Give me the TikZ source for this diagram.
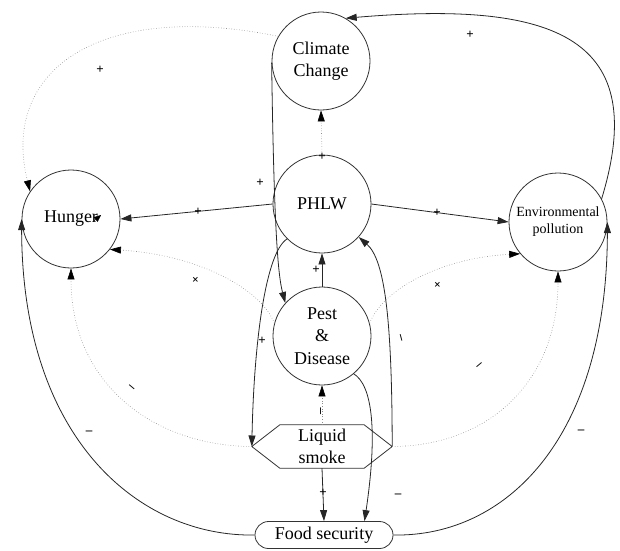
\documentclass[tikz,border=0pt]{standalone}
\usepackage{fontspec}
\setmainfont{Liberation Serif}
\usetikzlibrary{arrows.meta,shapes.misc}
\begin{document}
\begin{tikzpicture}[x=1pt,y=-1pt,
  every node/.style={inner sep=0pt},
  bub/.style={circle,draw=black!80,line width=0.8pt,minimum size=98pt,align=center,font=\fontsize{18}{22.5}\selectfont},
  boxtext/.style={align=center,font=\fontsize{18}{22.5}\selectfont},
  solidc/.style={draw=black!85,line width=0.8pt,-{Triangle[length=11pt,width=7pt]}},
  dotc/.style={draw=black!45,line width=0.6pt,dotted,-{Triangle[length=11pt,width=7pt,color=black]}},
  sgn/.style={font=\bfseries\fontsize{13}{13}\selectfont}]
\useasboundingbox (0,0) rectangle (620,550);
% nodes
\node[bub] (cc) at (321,61) {Climate\\Change};
\node[bub] (phlw) at (322,204) {PHLW};
\node[bub] (hun) at (71,219) {Hunger};
\node[bub,font=\fontsize{14}{17}\selectfont] (env) at (558,222) {Environmental\\pollution};
\node[bub] (pest) at (322,336) {Pest\\\&\\Disease};
\node[boxtext,minimum width=140pt,minimum height=43pt] (ls) at (322,446.5) {Liquid\\smoke};
\draw[black!80,line width=0.8pt] (ls.west) -- ([xshift=28pt]ls.north west) -- ([xshift=-28pt]ls.north east) -- (ls.east) -- ([xshift=-28pt]ls.south east) -- ([xshift=28pt]ls.south west) -- cycle;
\node[boxtext,rounded rectangle,draw=black!80,line width=0.8pt,minimum width=138pt,minimum height=27pt] (fs) at (324,535) {Food security};
% connectors
\draw[dotc] (phlw.north) -- (cc.south);
\draw[solidc] (phlw.west) -- (hun.east);
\draw[solidc] (phlw.east) -- (env.west);
\draw[solidc] (env.28) .. controls (650,40) and (560,0) .. (cc.60);
\draw[dotc] (cc.150) .. controls (100,0) and (0,70) .. (hun.146);
\draw[solidc] (cc.182) .. controls (274,230) and (278,275) .. (pest.138);
\draw[solidc] (pest.north) -- (phlw.south);
\draw[dotc] (pest.165) .. controls (262,290) and (200,255) .. (hun.-38);
\draw[dotc] (pest.15) .. controls (382,290) and (440,258) .. (env.220);
\draw[solidc] (phlw.225) .. controls (266,252) and (254,340) .. (ls.west);
\draw[solidc] (ls.east) .. controls (392,320) and (385,260) .. (phlw.-42);
\draw[dotc] (ls.north) -- (pest.south);
\draw[dotc] (ls.west) .. controls (155,446) and (71,385) .. (hun.south);
\draw[dotc] (ls.east) .. controls (490,446) and (558,380) .. (env.south);
\draw[solidc] (ls.south) -- (fs.north);
\draw[solidc] (pest.-50) .. controls (372,385) and (378,430) .. ([xshift=-15pt]fs.north east);
\draw[solidc] (fs.west) .. controls (140,537) and (22,440) .. (hun.west);
\draw[solidc] (fs.east) .. controls (505,537) and (607,440) .. (env.east);
\draw[-{Triangle[length=7pt,width=6pt]}] ([shift={(23,2)}]hun.center) -- ([shift={(30,-4)}]hun.center);
% signs
\node[sgn] (s1) at (100,70) {+};
\node[sgn] (s2) at (260,183) {+};
\node[sgn] (s3) at (470,35) {+};
\node[sgn] (s4) at (198,212) {+};
\node[sgn] (s5) at (437,213) {+};
\node[sgn] (s6) at (322,157) {+};
\node[sgn] (s7) at (316,270) {+};
\node[sgn,rotate=45] (s8) at (196,280) {+};
\node[sgn,rotate=45] (s9) at (438,285) {+};
\node[sgn] (s10) at (262,341) {+};
\node[sgn,rotate=-75] (s11) at (400,338) {–};
\node[sgn,rotate=90] (s12) at (322,411) {–};
\node[sgn,rotate=-40] (s13) at (131,388) {–};
\node[sgn,rotate=40] (s14) at (480,366) {–};
\node[sgn] (s15) at (323,493) {+};
\node[sgn] (s16) at (398,496) {–};
\node[sgn] (s17) at (89,433) {–};
\node[sgn] (s18) at (581,432) {–};
\end{tikzpicture}
\end{document}
